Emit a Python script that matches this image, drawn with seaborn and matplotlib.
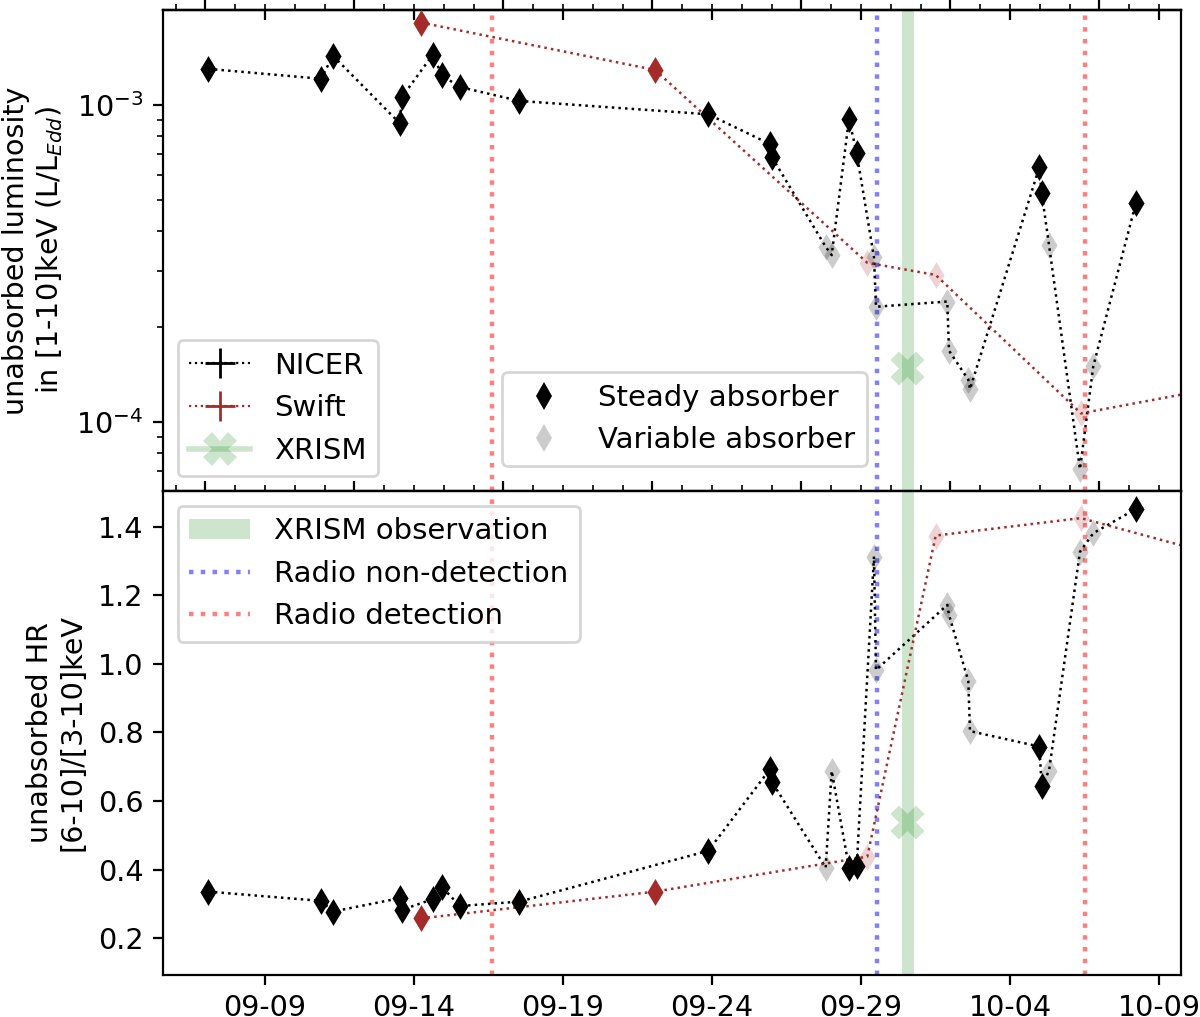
import numpy as np
import pandas as pd
import matplotlib
matplotlib.use("Agg")
import matplotlib.pyplot as plt
import matplotlib.dates as mdates
from matplotlib.ticker import MultipleLocator, NullFormatter, FixedLocator
from matplotlib.lines import Line2D
from matplotlib.patches import Patch
import seaborn as sns

# ---------------- data ----------------
nicer_time = ["2024-09-07 02:20", "2024-09-10 21:06", "2024-09-11 06:46", "2024-09-13 12:29",
              "2024-09-13 14:20", "2024-09-14 15:04", "2024-09-14 22:34", "2024-09-15 12:49",
              "2024-09-17 12:58", "2024-09-23 21:01", "2024-09-25 22:42", "2024-09-26 00:04",
              "2024-09-27 19:34", "2024-09-28 00:24", "2024-09-28 14:20", "2024-09-28 20:32",
              "2024-09-29 10:28", "2024-09-29 12:04", "2024-10-01 21:30", "2024-10-01 22:52",
              "2024-10-02 14:25", "2024-10-02 15:47", "2024-10-04 23:35", "2024-10-05 01:32",
              "2024-10-05 07:25", "2024-10-06 08:22", "2024-10-06 19:05", "2024-10-08 05:28"]
nicer_lum = [1.30e-3, 1.21e-3, 1.43e-3, 8.76e-4, 1.06e-3, 1.44e-3, 1.24e-3, 1.14e-3,
             1.03e-3, 9.35e-4, 7.53e-4, 6.87e-4, 3.57e-4, 3.36e-4, 9.03e-4, 7.05e-4,
             3.31e-4, 2.31e-4, 2.40e-4, 1.68e-4, 1.36e-4, 1.27e-4, 6.36e-4, 5.27e-4,
             3.62e-4, 7.1e-5, 1.50e-4, 4.92e-4]
nicer_hr = [0.336, 0.309, 0.278, 0.317, 0.283, 0.314, 0.350, 0.294,
            0.307, 0.455, 0.693, 0.657, 0.406, 0.688, 0.406, 0.411,
            1.313, 0.982, 1.172, 1.143, 0.950, 0.804, 0.759, 0.645,
            0.688, 1.327, 1.381, 1.452]
nicer_state = ["steady"] * 12 + ["variable", "variable", "steady", "steady",
               "variable", "variable", "variable", "variable", "variable", "variable",
               "steady", "steady", "variable", "variable", "variable", "steady"]

swift_time = ["2024-09-14 05:38", "2024-09-22 02:05", "2024-09-29 05:04",
              "2024-10-01 12:10", "2024-10-06 09:11", "2024-10-12 01:18"]
swift_lum = [1.82e-3, 1.29e-3, 3.18e-4, 2.91e-4, 1.065e-4, 1.34e-4]
swift_hr = [0.258, 0.336, 0.438, 1.374, 1.425, 1.291]
swift_state = ["steady", "steady", "variable", "variable", "variable", "variable"]

xrism_time = ["2024-09-30 13:03"]
xrism_lum = [1.48e-4]
xrism_hr = [0.54]
xrism_window = ["2024-09-30 08:47", "2024-09-30 18:41"]

radio_nondetection = ["2024-09-29 12:53"]
radio_detection = ["2024-09-16 14:53", "2024-10-06 12:24"]

date_ticks = ["2024-09-09", "2024-09-14", "2024-09-19", "2024-09-24",
              "2024-09-29", "2024-10-04", "2024-10-09"]
x_range = ["2024-09-05 13:51", "2024-10-09 17:43"]

# ---------------- frames ----------------
df_n = pd.DataFrame({"time": pd.to_datetime(nicer_time), "lum": nicer_lum,
                     "hr": nicer_hr, "state": nicer_state})
df_s = pd.DataFrame({"time": pd.to_datetime(swift_time), "lum": swift_lum,
                     "hr": swift_hr, "state": swift_state})
df_x = pd.DataFrame({"time": pd.to_datetime(xrism_time), "lum": xrism_lum, "hr": xrism_hr})

plt.rcParams["font.family"] = ["DejaVu Sans"]
plt.rcParams["font.size"] = 10.3

fig = plt.figure(figsize=(6, 5.085), dpi=200)
ax1 = fig.add_axes([0.13583, 0.51721, 0.84833, 0.47296])
ax2 = fig.add_axes([0.13583, 0.04130, 0.84833, 0.47591], sharex=ax1)

SWIFT = "brown"
MS = 47

for ax, col in ((ax1, "lum"), (ax2, "hr")):
    ax.axvspan(pd.Timestamp(xrism_window[0]), pd.Timestamp(xrism_window[1]),
               color="green", alpha=0.2, lw=0, zorder=0)
    for t in radio_nondetection:
        ax.axvline(pd.Timestamp(t), color="blue", alpha=0.5, ls=":", lw=1.6, zorder=1)
    for t in radio_detection:
        ax.axvline(pd.Timestamp(t), color="red", alpha=0.5, ls=":", lw=1.6, zorder=1)
    sns.lineplot(data=df_n, x="time", y=col, sort=False, estimator=None,
                 color="k", ls=":", lw=0.9, ax=ax, zorder=2)
    sns.lineplot(data=df_s, x="time", y=col, sort=False, estimator=None,
                 color=SWIFT, ls=":", lw=0.9, ax=ax, zorder=2)
    sns.scatterplot(data=df_n[df_n.state == "steady"], x="time", y=col, marker="d",
                    s=MS, color="k", linewidth=0, ax=ax, zorder=3, legend=False)
    sns.scatterplot(data=df_n[df_n.state == "variable"], x="time", y=col, marker="d",
                    s=MS, color="k", alpha=0.2, linewidth=0, ax=ax, zorder=3, legend=False)
    sns.scatterplot(data=df_s[df_s.state == "steady"], x="time", y=col, marker="d",
                    s=MS, color=SWIFT, linewidth=0, ax=ax, zorder=3, legend=False)
    sns.scatterplot(data=df_s[df_s.state == "variable"], x="time", y=col, marker="d",
                    s=MS, color=SWIFT, alpha=0.2, linewidth=0, ax=ax, zorder=3, legend=False)
    sns.scatterplot(data=df_x, x="time", y=col, marker="X", s=150, color="green",
                    alpha=0.2, linewidth=0, ax=ax, zorder=3, legend=False)
    ax.set_xlabel("")

ax1.set_yscale("log")
ax1.set_ylim(6.06e-5, 1.994e-3)
ax2.set_ylim(0.093, 1.504)
ax2.set_xlim(pd.Timestamp(x_range[0]), pd.Timestamp(x_range[1]))
ax1.yaxis.set_minor_formatter(NullFormatter())

tick_nums = mdates.date2num(pd.to_datetime(date_ticks))
ax2.xaxis.set_major_locator(FixedLocator(tick_nums))
ax2.xaxis.set_major_formatter(mdates.DateFormatter("%m-%d"))
ax1.tick_params(axis="x", labelbottom=False)
ax2.set_yticks([0.2, 0.4, 0.6, 0.8, 1.0, 1.2, 1.4])

# MJD secondary axes (labels cropped away in the original)
for ax in (ax1, ax2):
    sec = ax.secondary_xaxis("top", functions=(lambda x: x + 40587, lambda x: x - 40587))
    sec.xaxis.set_major_locator(MultipleLocator(5))
    sec.xaxis.set_minor_locator(MultipleLocator(1))
    sec.xaxis.set_major_formatter(NullFormatter())
sec2 = ax1.secondary_xaxis("top")
sec2.xaxis.set_major_locator(FixedLocator(tick_nums))
sec2.xaxis.set_major_formatter(NullFormatter())
sec2.tick_params(direction="in")

ax1.set_ylabel("unabsorbed luminosity\nin [1-10]keV (L/L$_{Edd}$)")
ax2.set_ylabel("unabsorbed HR\n[6-10]/[3-10]keV")

# legends
LFS = 10.5
HL = 2.1
h_nicer = Line2D([], [], color="k", ls=":", lw=0.8, marker="+", ms=11, mew=1)
h_swift = Line2D([], [], color=SWIFT, ls=":", lw=0.8, marker="+", ms=11, mew=1)
h_xrism = Line2D([], [], color="green", alpha=0.2, lw=2, marker="X", ms=12, mew=0)
leg1 = ax1.legend([h_nicer, h_swift, h_xrism], ["NICER", "Swift", "XRISM"],
                  loc="lower left", fontsize=LFS, handlelength=HL)
ax1.add_artist(leg1)
h_steady = Line2D([], [], ls="none", marker="d", color="k", ms=7, mew=0)
h_var = Line2D([], [], ls="none", marker="d", color="k", alpha=0.2, ms=7, mew=0)
ax1.legend([h_steady, h_var], ["Steady absorber", "Variable absorber"],
           loc="lower left", bbox_to_anchor=(0.333, 0.052), borderaxespad=0,
           fontsize=LFS, handlelength=HL)

h_obs = Patch(facecolor="green", alpha=0.2, edgecolor="none")
h_nd = Line2D([], [], color="blue", alpha=0.5, ls=":", lw=1.6)
h_d = Line2D([], [], color="red", alpha=0.5, ls=":", lw=1.6)
ax2.legend([h_obs, h_nd, h_d], ["XRISM observation", "Radio non-detection", "Radio detection"],
           loc="upper left", fontsize=LFS, handlelength=HL)

fig.savefig("out.png", dpi=200)
